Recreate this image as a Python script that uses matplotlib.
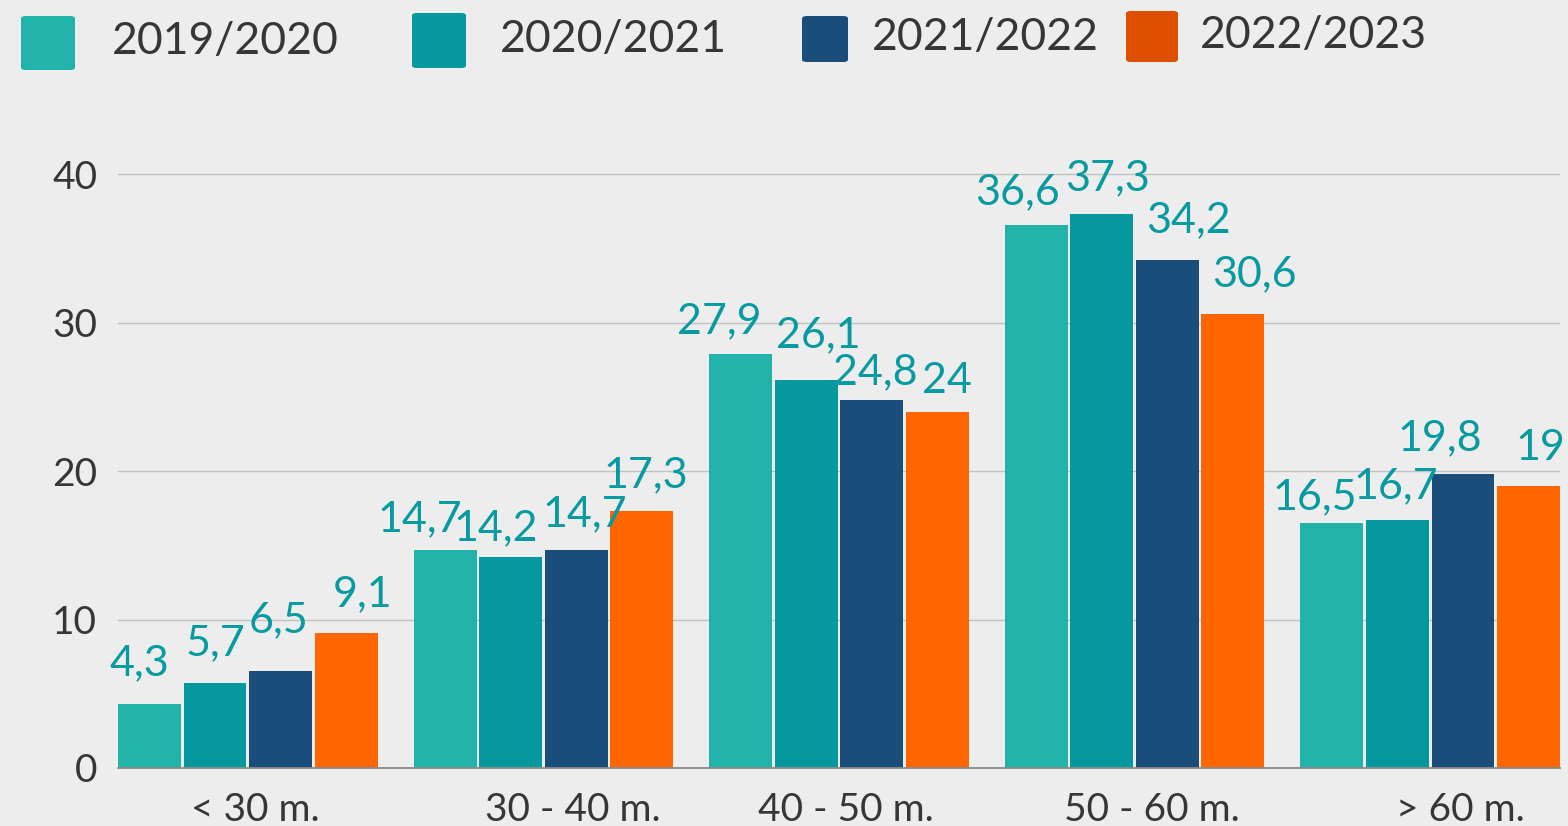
import matplotlib

matplotlib.use("Agg")
import matplotlib.pyplot as plt
import matplotlib.transforms as mtransforms
from matplotlib.patches import FancyBboxPatch
import numpy as np

categorias = ["< 30 m.", "30 - 40 m.", "40 - 50 m.", "50 - 60 m.", "> 60 m."]
temporadas = ["2019/2020", "2020/2021", "2021/2022", "2022/2023"]
v_2019 = [4.3, 14.7, 27.9, 36.6, 16.5]
v_2020 = [5.7, 14.2, 26.1, 37.3, 16.7]
v_2021 = [6.5, 14.7, 24.8, 34.2, 19.8]
v_2022 = [9.1, 17.3, 24.0, 30.6, 19.0]
series = [v_2019, v_2020, v_2021, v_2022]

CORES = ["#21b3aa", "#05989e", "#1b4d7a", "#ff6600"]
CORES_LEG = ["#21b3aa", "#05989e", "#1b4d7a", "#e04e00"]
COR_ROTULO = "#079aa0"
COR_TEXTO = "#363636"
FUNDO = "#ededed"
FONTE = ["Lato", "DejaVu Sans"]

# deslocamento (px) de cada rótulo em relação ao topo da barra, [grupo][série]
DESLOC = [
    [(-10, 29), (0, 28), (-2, 39), (16, 27)],
    [(-25, 19), (-15, 17), (9, 24), (4, 24)],
    [(-21, 21), (12, 33), (4, 16), (10, 19)],
    [(-19, 20), (6, 24), (21, 28), (22, 27)],
    [(-17, 14), (-2, 22), (-23, 24), (12, 26)],
]
DESLOC_X_CAT = [8, 29, 7, 17, 30]

plt.rcParams["font.family"] = FONTE

fig = plt.figure(figsize=(15.68, 8.26), dpi=100, facecolor=FUNDO)
ax = fig.add_axes([118 / 1568, 58 / 826, 1442 / 1568, (768 - 144.4) / 826])
ax.set_facecolor(FUNDO)

x = np.arange(len(categorias))
passo, largura = 0.2217, 0.213
for k, (vals, cor) in enumerate(zip(series, CORES)):
    pos = x + (k - 1.5) * passo
    ax.bar(pos, vals, width=largura, color=cor, zorder=3)
    for i, (p, v) in enumerate(zip(pos, vals)):
        txt = f"{v:g}".replace(".", ",")
        ax.annotate(txt, (p, v), textcoords="offset pixels", xytext=DESLOC[i][k],
                    ha="center", va="baseline", fontsize=31, color=COR_ROTULO,
                    zorder=4)

ax.set_xlim(-0.439, 4.439)
ax.set_ylim(0, 42)
ax.set_yticks([0, 10, 20, 30, 40])
ax.set_xticks(x)
ax.set_xticklabels(categorias)
ax.grid(axis="y", color="#c2c2c2", linewidth=1.0, zorder=0)
ax.tick_params(axis="y", length=0, pad=15, labelsize=28, labelcolor=COR_TEXTO)
ax.tick_params(axis="x", length=0, pad=17, labelsize=28, labelcolor=COR_TEXTO)
for lab, dx in zip(ax.get_xticklabels(), DESLOC_X_CAT):
    lab.set_transform(lab.get_transform() +
                      mtransforms.ScaledTranslation(dx / 100, 0, fig.dpi_scale_trans))
for lado in ["top", "right", "left"]:
    ax.spines[lado].set_visible(False)
ax.spines["bottom"].set_color("#8a8a8a")
ax.spines["bottom"].set_linewidth(1.3)
ax.spines["bottom"].set_zorder(5)

# legenda manual (posições em px da figura)
leg_caixas = [(21, 16, 54, 54), (412, 13, 54, 55), (802, 16, 46, 46), (1126, 11, 52, 51)]
leg_texto_x = [112, 500, 872, 1200]
leg_texto_y = [42, 39, 37, 36]
W, H = 1568, 826
for nome, cor, (bx, by, bw, bh), tx, ty in zip(temporadas, CORES_LEG, leg_caixas,
                                                leg_texto_x, leg_texto_y):
    fig.patches.append(FancyBboxPatch(
        (bx / W, 1 - (by + bh) / H), bw / W, bh / H,
        boxstyle="round,pad=0,rounding_size=0.003", transform=fig.transFigure,
        facecolor=cor, edgecolor="none"))
    fig.text(tx / W, 1 - ty / H, nome, ha="left", va="center", fontsize=32,
             color=COR_TEXTO)

fig.savefig("out.png", dpi=100, facecolor=FUNDO)
